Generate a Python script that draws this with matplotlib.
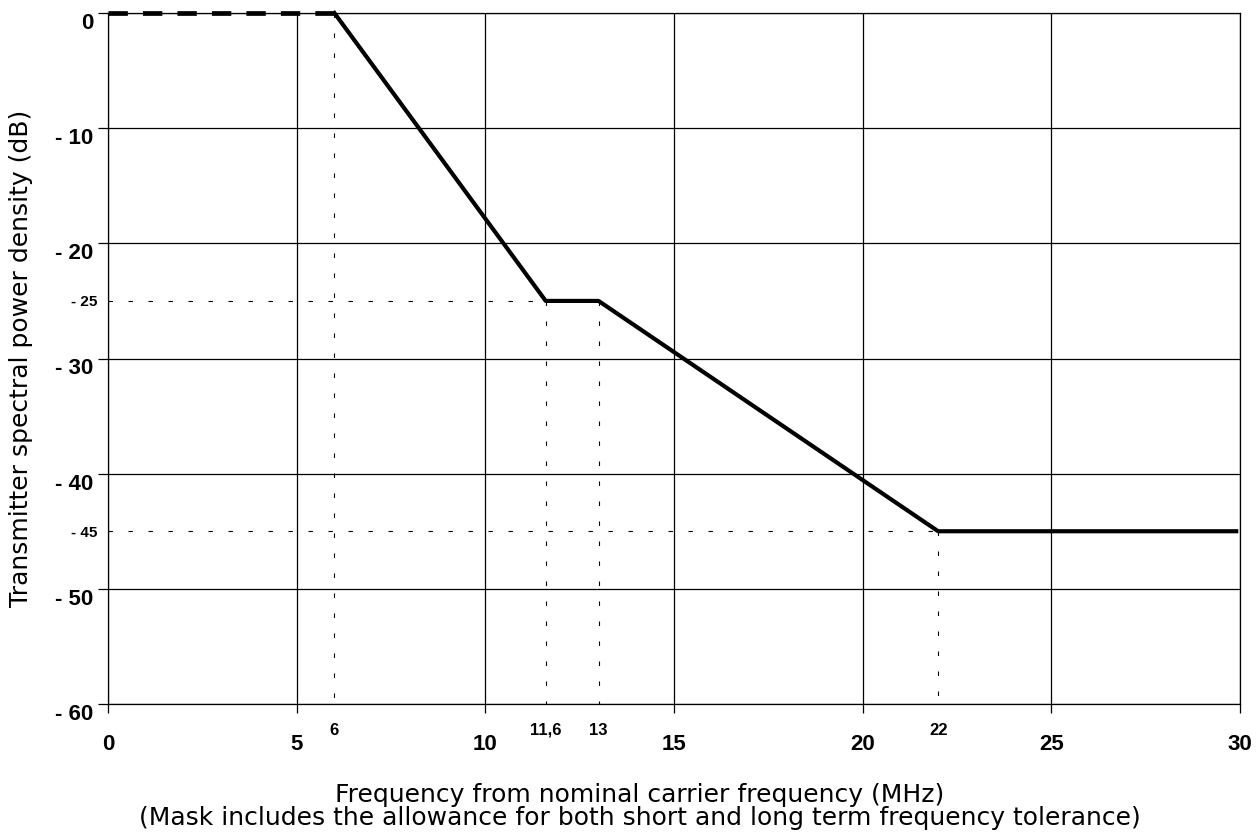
import matplotlib
matplotlib.use("Agg")
import matplotlib.pyplot as plt

# spectrum mask
flat_freq = [0, 6]
flat_db = [0, 0]
mask_freq = [6, 11.6, 13, 22, 29.9]
mask_db = [0, -25, -25, -45, -45]

# corner points that get dotted guide lines
corner_freq = [6, 11.6, 13, 22]
corner_db = [0, -25, -25, -45]
level_db = [-25, -45]
level_freq = [11.6, 22]

x_ticks = [0, 5, 10, 15, 20, 25, 30]
x_labels = ["0", "5", "10", "15", "20", "25", "30"]
x_minor = [6, 11.6, 13, 22]
x_minor_labels = ["6", "11,6", "13", "22"]
y_ticks = [0, -10, -20, -30, -40, -50, -60]
y_labels = ["0", "- 10", "- 20", "- 30", "- 40", "- 50", "- 60"]
y_minor = [-25, -45]
y_minor_labels = ["- 25", "- 45"]

tick_font = ["Liberation Sans", "DejaVu Sans"]

fig = plt.figure(figsize=(12.58, 8.39), dpi=100)
ax = fig.add_axes([108 / 1258, 1 - 704 / 839, 1132 / 1258, 691 / 839])

ax.set_xlim(0, 30)
ax.set_ylim(-60, 0)

ax.set_xticks(x_ticks, x_labels)
ax.set_yticks(y_ticks, y_labels)
ax.set_xticks(x_minor, x_minor_labels, minor=True)
ax.set_yticks(y_minor, y_minor_labels, minor=True)

ax.grid(True, which="major", color="black", linewidth=0.9)
ax.set_axisbelow(True)
for s in ax.spines.values():
    s.set_linewidth(0.9)

ax.tick_params(axis="x", which="major", direction="out", length=6.5, width=0.9, pad=15)
ax.tick_params(axis="y", which="major", direction="out", length=7, width=0.9, pad=3.5)
ax.tick_params(axis="x", which="minor", length=0, pad=13.5)
ax.tick_params(axis="y", which="minor", length=0, pad=8)

for lbl in ax.get_xticklabels() + ax.get_yticklabels():
    lbl.set_family(tick_font)
    lbl.set_fontweight("bold")
    lbl.set_fontsize(16)
for lbl in ax.get_yticklabels():
    lbl.set_va("top")
for lbl in ax.get_xticklabels(minor=True):
    lbl.set_family(tick_font)
    lbl.set_fontweight("bold")
    lbl.set_fontsize(12)
for lbl in ax.get_yticklabels(minor=True):
    lbl.set_family(tick_font)
    lbl.set_fontweight("bold")
    lbl.set_fontsize(11)

# dotted guides
for f, d in zip(corner_freq, corner_db):
    ax.plot([f, f], [d, -60], color="black", linewidth=0.8, dashes=(4, 14))
for f, d in zip(level_freq, level_db):
    ax.plot([0, f], [d, d], color="black", linewidth=0.8, dashes=(4, 14))

ax.plot(flat_freq, flat_db, color="black", linewidth=3.4, dashes=(4.1, 3.2), clip_on=False)
ax.plot(mask_freq, mask_db, color="black", linewidth=3, clip_on=False)

ax.set_ylabel("Transmitter spectral power density (dB)", fontsize=18, family="DejaVu Sans")
ax.yaxis.set_label_coords(-0.066, 0.5)
ax.set_xlabel("Frequency from nominal carrier frequency (MHz)\n"
              "(Mask includes the allowance for both short and long term frequency tolerance)",
              fontsize=18, family="DejaVu Sans", linespacing=0.95)
ax.xaxis.set_label_coords(0.47, -0.114)

fig.savefig("out.png", dpi=100)
